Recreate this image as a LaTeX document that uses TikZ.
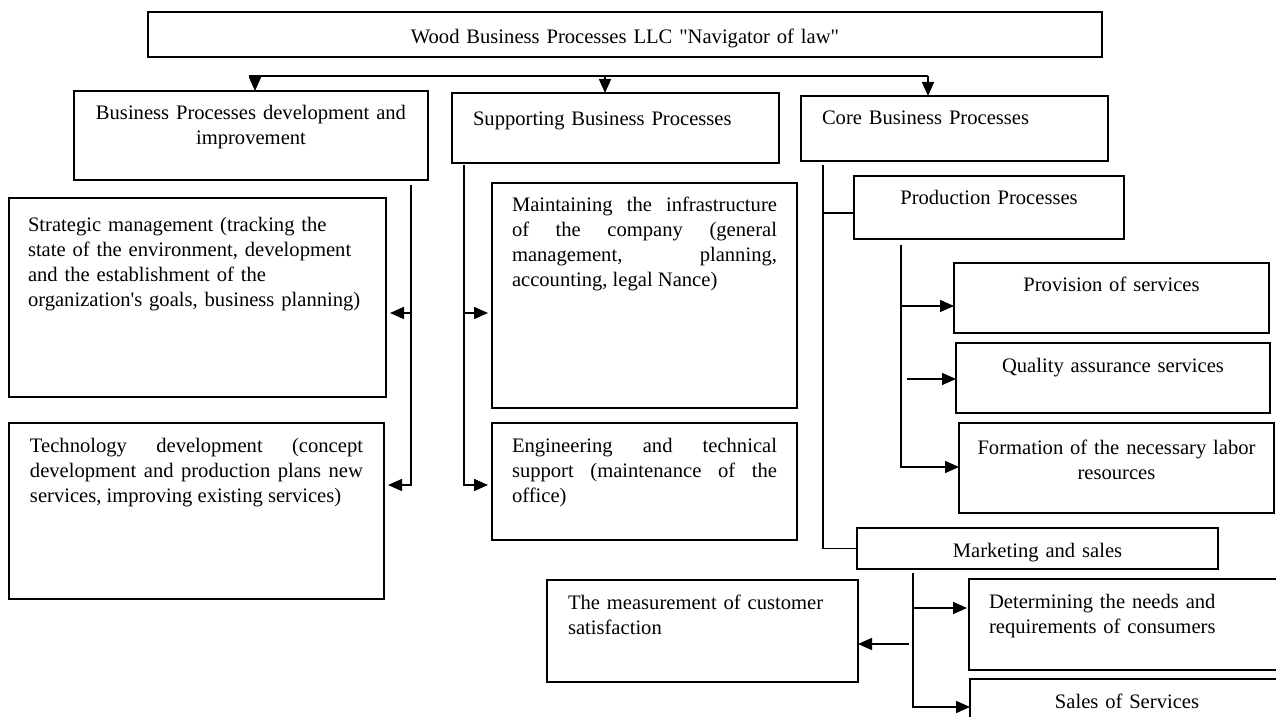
\documentclass[tikz,border=0pt]{standalone}
\usepackage{fontspec}
\setmainfont{Liberation Serif}
\usetikzlibrary{arrows.meta,positioning}
\newcommand{\boxfont}{\fontsize{10.3pt}{12.5pt}\selectfont}
\tikzset{
  blk/.style={draw, line width=0.8pt, anchor=north west, outer sep=0pt,
    inner ysep=4pt, text height=10.5pt, font=\boxfont},
  arr/.style={-{Triangle[length=7pt,width=6pt]}},
  ln/.style={line width=0.8pt},
}
\hbadness=10000
\hyphenpenalty=10000
\exhyphenpenalty=10000
\begin{document}
\begin{tikzpicture}[x=0.5pt,y=-0.5pt]
  \useasboundingbox (0,0) rectangle (1276,717);
  \clip (0,0) rectangle (1276,717);
  % firm and the three groups
  \node[blk, align=center, inner xsep=5pt, text width=467pt, text height=12pt, text depth=2.5pt] at (148,12) (firm) {Wood Business Processes LLC \textquotedbl Navigator of law\textquotedbl};
  \node[blk, align=center, inner xsep=5pt, text width=167pt, text depth=26pt] at (74,91) (bpdev) {Business Processes development and\\improvement};
  \node[blk, align=left, inner xsep=10.5pt, text width=142.5pt, text height=12.5pt, text depth=14.5pt] at (452,93) (supp) {Supporting Business Processes};
  \node[blk, align=left, inner xsep=10.5pt, text width=132.5pt, text depth=14pt] at (801,96) (core) {Core Business Processes};
  % development column
  \node[blk, align=left, inner xsep=9.5pt, text width=169.5pt, text height=13pt, text depth=78.5pt] at (9,198) (strat) {Strategic management (tracking the\\state of the environment, development\\and the establishment of the\\organization\textquotesingle s goals, business planning)};
  \node[blk, align=justify, inner xsep=10.5pt, text width=166.5pt, text depth=69.5pt] at (9,423) (tech) {Technology development (concept\linebreak development and production plans new\linebreak services, improving existing services)};
  % supporting column
  \node[blk, align=justify, inner xsep=10pt, text width=132.5pt, text depth=94pt] at (492,183) (maint) {Maintaining the infrastructure\linebreak of the company (general\linebreak management, planning,\linebreak accounting, legal Nance)};
  \node[blk, align=justify, inner xsep=10pt, text width=132.5pt, text depth=40pt] at (492,423) (eng) {Engineering and technical\linebreak support (maintenance of the\linebreak office)};
  % core column
  \node[blk, align=center, inner xsep=5pt, text width=125pt, text depth=13pt] at (854,176) (prod) {Production Processes};
  \node[blk, align=center, inner xsep=5pt, text width=147.5pt, text depth=16.5pt] at (954,263) (prov) {Provision of services};
  \node[blk, align=center, inner xsep=5pt, text width=147pt, text depth=16.5pt] at (956,343) (qual) {Quality assurance services};
  \node[blk, align=center, inner xsep=5pt, text width=147.5pt, text height=11.5pt, text depth=25.5pt] at (959,423) (form) {Formation of the necessary labor\\resources};
  \node[blk, align=center, inner xsep=5pt, text width=170.5pt, text depth=2pt] at (857,528) (mkt) {Marketing and sales};
  \node[blk, align=left, inner xsep=10.5pt, text width=134.5pt, text depth=32.5pt] at (547,580) (meas) {The measurement of customer\\satisfaction};
  \node[blk, align=left, inner xsep=10pt, text width=140.5pt, text depth=27pt] at (969,579) (det) {Determining the needs and\\requirements of consumers};
  \node[blk, align=center, inner xsep=5pt, text width=147pt, text depth=12pt] at (970,679) (sales) {Sales of Services};
  % bus from the firm
  \coordinate (busL) at (249,76);
  \coordinate (busM) at (605,76);
  \coordinate (busR) at (928,76);
  \coordinate (busLd) at (255,76);
  \draw[ln] (busL) -- (busR);
  \draw[ln,arr] (busLd) -- (busLd |- bpdev.north);
  \draw[ln,arr] (busM) -- (busM |- supp.north);
  \draw[ln,arr] (busR) -- (busR |- core.north);
  % development branch
  \coordinate (devtop) at (411,185);
  \coordinate (devmid) at (411,313);
  \coordinate (devbot) at (411,485);
  \draw[ln] (devtop) -- (devmid);
  \draw[ln,arr,shorten >=2pt] (devmid) -- (devmid -| strat.east);
  \draw[ln,arr,shorten >=2pt] (devmid) -- (devbot) -- (devbot -| tech.east);
  % supporting branch
  \coordinate (suptop) at (464,165);
  \coordinate (supmid) at (464,313);
  \coordinate (supbot) at (464,485);
  \draw[ln] (suptop) -- (supmid);
  \draw[ln,arr,shorten >=2pt] (supmid) -- (supmid -| maint.west);
  \draw[ln,arr,shorten >=2pt] (supmid) -- (supbot) -- (supbot -| eng.west);
  % core branch
  \coordinate (cortop) at (823,165);
  \coordinate (corprod) at (823,213);
  \draw[ln] (cortop) -- (cortop |- mkt.west) -- (mkt.west);
  \draw[ln] (corprod) -- (corprod -| prod.west);
  % production branch
  \coordinate (prdtop) at (901,245);
  \coordinate (prdone) at (901,306);
  \coordinate (prdtwo) at (907,379);
  \coordinate (prdbot) at (901,467);
  \draw[ln,arr] (prdone) -- (prdone -| prov.west);
  \draw[ln,arr] (prdtwo) -- (prdtwo -| qual.west);
  \draw[ln,arr] (prdtop) -- (prdbot) -- (prdbot -| form.west);
  % marketing branch
  \coordinate (mkttop) at (913,573);
  \coordinate (mktone) at (913,608);
  \coordinate (mkttwo) at (909,644);
  \coordinate (mktbot) at (913,707);
  \draw[ln,arr,shorten >=1pt] (mktone) -- (mktone -| det.west);
  \draw[ln,arr] (mkttwo) -- (mkttwo -| meas.east);
  \draw[ln,arr] (mkttop) -- (mktbot) -- (mktbot -| sales.west);
\end{tikzpicture}
\end{document}
